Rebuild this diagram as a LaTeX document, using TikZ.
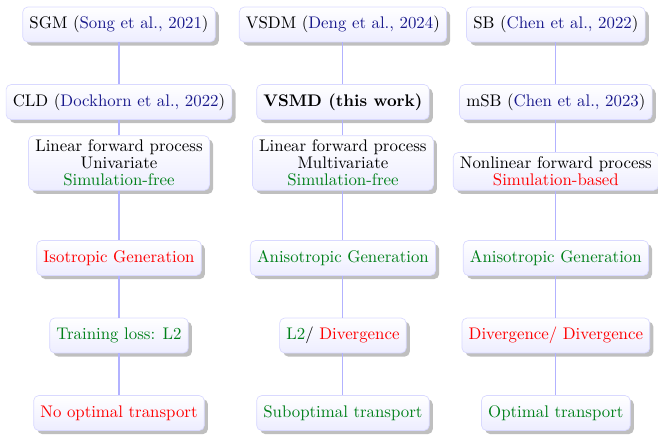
\documentclass[tikz,border=0pt]{standalone}
\usepackage{tikz}
\usetikzlibrary{positioning,shadows}
\definecolor{citeblue}{rgb}{0.1,0.1,0.55}
\definecolor{goodgreen}{rgb}{0,0.5,0.1}
\tikzset{
flow/.style={
    on grid,
    node distance=1.62cm,
    semithick
},
box/.style={
    rectangle,
    rounded corners=3pt,
    draw=blue!15,
    thin,
    top color=white,
    bottom color=blue!7,
    drop shadow,
    align=center,
    font=\fontsize{10}{10}\selectfont,
    inner xsep=4pt,
    inner ysep=2.6pt,
    minimum height=0.73cm
},
link/.style={
    draw=blue!30,
    semithick
}}
\newcommand{\citetxt}[1]{\textcolor{citeblue}{#1}}
\newcommand{\goodtxt}[1]{\textcolor{goodgreen}{#1}}
\newcommand{\badtxt}[1]{\textcolor{red}{#1}}

\begin{document}
\begin{tikzpicture}[flow]
\useasboundingbox (-2.487,0.512) rectangle (11.265,-8.559);
\node[box]    (sgm)                            {SGM (\citetxt{Song et al., 2021})};
\node[box]    (vsdm)    [right=4.68cm of sgm]   {VSDM (\citetxt{Deng et al., 2024})};
\node[box]    (sb)      [right=4.45cm of vsdm]  {SB (\citetxt{Chen et al., 2022})};
\node[box]    (cld)     [below=of sgm]          {CLD (\citetxt{Dockhorn et al., 2022})};
\node[box]    (vsmd)    [below=of vsdm]         {\textbf{VSMD (this work)}};
\node[box]    (msb)     [below=of sb]           {mSB (\citetxt{Chen et al., 2023})};
\node[box]    (lin1)    [below=1.275cm of cld]  {Linear forward process\\Univariate\\\goodtxt{Simulation-free}};
\node[box]    (lin2)    [below=1.275cm of vsmd] {Linear forward process\\Multivariate\\\goodtxt{Simulation-free}};
\node[box]    (nonlin)  [below=1.45cm of msb]   {Nonlinear forward process\\\badtxt{Simulation-based}};
\node[box]    (iso)     [below=3.26cm of cld]   {\badtxt{Isotropic Generation}};
\node[box]    (aniso1)  [below=3.26cm of vsmd]  {\goodtxt{Anisotropic Generation}};
\node[box]    (aniso2)  [below=3.26cm of msb]   {\goodtxt{Anisotropic Generation}};
\node[box]    (loss1)   [below=of iso]          {\goodtxt{Training loss: L2}};
\node[box]    (loss2)   [below=of aniso1]       {\goodtxt{L2}/ \badtxt{Divergence}};
\node[box]    (loss3)   [below=of aniso2]       {\badtxt{Divergence/ Divergence}};
\node[box]    (ot1)     [below=of loss1]        {\badtxt{No optimal transport}};
\node[box]    (ot2)     [below=of loss2]        {\goodtxt{Suboptimal transport}};
\node[box]    (ot3)     [below=of loss3]        {\goodtxt{Optimal transport}};

\path    (sgm)     edge[link]    (cld);
\path    (cld)     edge[link]    (lin1);
\path    (lin1)    edge[link]    (iso);
\path    (iso)     edge[link]    (loss1);
\path    (loss1)   edge[link]    (ot1);

\path    (vsdm)    edge[link]    (vsmd);
\path    (vsmd)    edge[link]    (lin2);
\path    (lin2)    edge[link]    (aniso1);
\path    (aniso1)  edge[link]    (loss2);
\path    (loss2)   edge[link]    (ot2);

\path    (sb)      edge[link]    (msb);
\path    (msb)     edge[link]    (nonlin);
\path    (nonlin)  edge[link]    (aniso2);
\path    (aniso2)  edge[link]    (loss3);
\path    (loss3)   edge[link]    (ot3);
\end{tikzpicture}
\end{document}
